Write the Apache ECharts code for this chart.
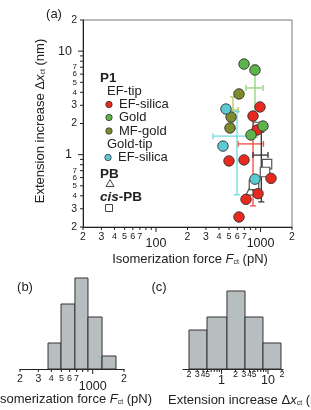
<!DOCTYPE html>
<html><head><meta charset="utf-8">
<script src="https://cdn.jsdelivr.net/npm/echarts@6/dist/echarts.min.js"></script>
<style>html,body{margin:0;padding:0;background:#fff}#c{width:311px;height:410px}</style>
</head><body><div id="c"></div>
<script>
// ---------- data ----------
// panel (a): isomerization force (pN) vs extension increase (nm)
const forceCisPB = [946, 1153, 1103, 866];
const extCisPB = [1.85, 0.81, 0.68, 0.51];
const forcePB = [800];
const extPB = [0.45];
const forceEFsilica = [988, 847, 925, 499, 695, 1259, 946, 726, 622];
const extEFsilica = [2.89, 2.36, 1.73, 0.87, 0.89, 0.59, 0.42, 0.37, 0.25];
const forceGold = [695, 885, 1055, 810];
const extGold = [7.51, 6.57, 1.89, 1.55];
const forceMFgold = [622, 522, 510];
const extMFgold = [3.86, 2.31, 1.81];
const forceTipSilica = [467, 437, 885];
const extTipSilica = [2.76, 1.21, 0.58];
// mean +- SD markers: EF-silica, Gold, MF-gold, Gold-tip EF-silica, cis-PB
const errForce = [847, 885, 545, 595, 1017];
const errExt = [1.27, 4.41, 2.70, 1.51, 0.99];
const errForceLow = [609, 726, 510, 351, 847];
const errForceHigh = [1067, 1055, 609, 839, 1179];
const errExtLow = [0.32, 1.47, 1.79, 0.41, 0.35];
const errExtHigh = [2.23, 7.35, 3.61, 2.61, 1.65];
// panel (b): histogram of isomerization force
const histForceEdges = [372, 496, 675, 901, 1230, 1675];
const histForceCounts = [2, 5, 7, 4, 1];
// panel (c): histogram of extension increase
const histExtEdges = [0.2, 0.488, 1.31, 3.2, 7.79, 19.0];
const histExtCounts = [3, 4, 6, 4, 2];
// tick values and labels
const forceTicks = [20,30,40,50,60,70,80,90,100,200,300,400,500,600,700,800,900,1000,2000];
const forceTickLabels = ['2','3','4','5','6','7','','','100','2','3','4','5','6','7','','','1000','2'];
const extTicks = [0.2,0.3,0.4,0.5,0.6,0.7,0.8,0.9,1,2,3,4,5,6,7,8,9,10,20];
const extTickLabels = ['2','3','4','5','6','7','','','1','2','3','4','5','6','7','','','10','2'];
const histForceTicks = [200,300,400,500,600,700,800,900,1000,2000];
const histForceTickLabels = ['2','3','4','5','6','7','','','1000','2'];
const histExtTicks = [0.2,0.3,0.4,0.5,0.6,0.7,0.8,0.9,1,2,3,4,5,6,7,8,9,10,20];
const histExtTickLabels = ['2','3','4','5','','','','','1','2','3','4','5','','','','','10','2'];

// ---------- chart ----------
const FONT = '"Liberation Sans", Arial, Helvetica, sans-serif';
const INK = '#222';
const chart = echarts.init(document.getElementById('c'), null, {renderer: 'canvas'});

function isPow10(v) { const l = Math.log10(v); return Math.abs(l - Math.round(l)) < 1e-9; }
function mant(v) { return v / Math.pow(10, Math.floor(Math.log10(v) + 1e-9)); }

function tickSeries(kind, gi, vals, labels, fixed, cfg) {
  return {
    type: 'custom', xAxisIndex: gi, yAxisIndex: gi, clip: false, silent: true, z: 1,
    data: vals.map(v => kind === 'x' ? [v, fixed] : [fixed, v]),
    renderItem: function (params, api) {
      const v = api.value(kind === 'x' ? 0 : 1);
      const p = api.coord([api.value(0), api.value(1)]);
      const major = isPow10(v);
      const len = major ? cfg.majorLen : cfg.minorLen;
      const lab = labels[params.dataIndex];
      const ch = [];
      if (kind === 'x') {
        ch.push({type: 'line', shape: {x1: p[0], y1: p[1], x2: p[0], y2: p[1] + len}, style: {stroke: INK, lineWidth: 1}});
      } else {
        ch.push({type: 'line', shape: {x1: p[0], y1: p[1], x2: p[0] - len, y2: p[1]}, style: {stroke: INK, lineWidth: 1}});
      }
      if (lab) {
        const fs = major ? cfg.majorFs : (mant(v) <= 3.01 ? cfg.bigFs : cfg.smallFs);
        const st = {text: lab, fontSize: fs, fontFamily: FONT, fill: INK};
        if (kind === 'x') {
          st.x = p[0]; st.y = p[1] + (major ? cfg.majorDy : cfg.minorDy);
          st.align = 'center'; st.textAlign = 'center';
        } else {
          st.x = p[0] - (major ? cfg.majorDx : cfg.minorDx); st.y = p[1];
          st.align = 'right'; st.textAlign = 'right';
        }
        st.verticalAlign = 'middle'; st.textVerticalAlign = 'middle';
        ch.push({type: 'text', style: st});
      }
      return {type: 'group', children: ch};
    }
  };
}

function histSeries(gi, edges, counts) {
  return {
    type: 'custom', xAxisIndex: gi, yAxisIndex: gi, clip: false, z: 2,
    data: counts.map((c, i) => [edges[i], edges[i + 1], c]),
    encode: {x: [0, 1], y: 2},
    renderItem: function (params, api) {
      const a = api.coord([api.value(0), api.value(2)]);
      const b = api.coord([api.value(1), 0]);
      return {type: 'rect', shape: {x: a[0], y: a[1], width: b[0] - a[0], height: b[1] - a[1]},
        style: {fill: '#b7bebf', stroke: '#333', lineWidth: 1}};
    }
  };
}

const errColors = ['#f04a44', '#92d27c', '#b7c45e', '#6fd8e6', '#333333'];
const errData = errForce.map((x, i) => [x, errExt[i], errForceLow[i], errForceHigh[i], errExtLow[i], errExtHigh[i], i]);

function zip(a, b) { return a.map((v, i) => [v, b[i]]); }
function dots(name, xs, ys, color, symbol, size) {
  return {
    type: 'scatter', name: name, xAxisIndex: 0, yAxisIndex: 0, z: 3,
    symbol: symbol || 'circle', symbolSize: size || 10.5,
    data: zip(xs, ys),
    itemStyle: {color: color, borderColor: symbol ? '#555' : '#333', borderWidth: symbol ? 1.2 : 0.9, opacity: 1}
  };
}

const sub = {fontSize: 7, fontFamily: FONT, fill: INK, padding: [6, 0, 0, 0]};
const LEG = 13;

const option = {
  animation: false,
  backgroundColor: '#fff',
  grid: [
    {left: 83, top: 20, width: 209, height: 207, show: true, borderColor: '#777', borderWidth: 1, backgroundColor: 'transparent'},
    {left: 20, top: 278, width: 104, height: 91},
    {left: 183, top: 278, width: 100, height: 91}
  ],
  xAxis: [
    {gridIndex: 0, type: 'log', logBase: 10, min: 20, max: 2000, axisLine: {show: true, lineStyle: {color: INK}}, axisTick: {show: false}, axisLabel: {show: false}, splitLine: {show: false}},
    {gridIndex: 1, type: 'log', logBase: 10, min: 200, max: 2000, axisLine: {show: true, lineStyle: {color: INK}}, axisTick: {show: false}, axisLabel: {show: false}, splitLine: {show: false}},
    {gridIndex: 2, type: 'log', logBase: 10, min: 0.1486, max: 21.0, axisLine: {show: true, lineStyle: {color: INK}}, axisTick: {show: false}, axisLabel: {show: false}, splitLine: {show: false}}
  ],
  yAxis: [
    {gridIndex: 0, type: 'log', logBase: 10, min: 0.2, max: 20, axisLine: {show: true, lineStyle: {color: INK}}, axisTick: {show: false}, axisLabel: {show: false}, splitLine: {show: false}},
    {gridIndex: 1, type: 'value', min: 0, max: 7, show: false, splitLine: {show: false}},
    {gridIndex: 2, type: 'value', min: 0, max: 7, show: false, splitLine: {show: false}}
  ],
  series: [
    tickSeries('x', 0, forceTicks, forceTickLabels, 0.2, {majorLen: 5, minorLen: 3, majorFs: 12.5, bigFs: 10.5, smallFs: 9, majorDy: 17, minorDy: 10}),
    tickSeries('y', 0, extTicks, extTickLabels, 20, {majorLen: 5, minorLen: 3, majorFs: 12.5, bigFs: 10.5, smallFs: 8, majorDx: 11, minorDx: 6}),
    tickSeries('x', 1, histForceTicks, histForceTickLabels, 0, {majorLen: 5, minorLen: 3, majorFs: 12.5, bigFs: 10.5, smallFs: 9, majorDy: 18, minorDy: 10}),
    tickSeries('x', 2, histExtTicks, histExtTickLabels, 0, {majorLen: 5, minorLen: 3, majorFs: 12.5, bigFs: 9, smallFs: 8.5, majorDy: 12, minorDy: 6}),
    histSeries(1, histForceEdges, histForceCounts),
    histSeries(2, histExtEdges, histExtCounts),
    {
      type: 'custom', xAxisIndex: 0, yAxisIndex: 0, clip: false, z: 2,
      data: errData,
      encode: {x: 0, y: 1},
      renderItem: function (params, api) {
        const x = api.value(0), y = api.value(1);
        const l = api.coord([api.value(2), y]), r = api.coord([api.value(3), y]);
        const b = api.coord([x, api.value(4)]), t = api.coord([x, api.value(5)]);
        const col = errColors[api.value(6)];
        const cap = 3;
        const st = {stroke: col, lineWidth: 1.3};
        const L = (x1, y1, x2, y2) => ({type: 'line', shape: {x1, y1, x2, y2}, style: st});
        return {type: 'group', children: [
          L(l[0], l[1], r[0], r[1]), L(l[0], l[1] - cap, l[0], l[1] + cap), L(r[0], r[1] - cap, r[0], r[1] + cap),
          L(t[0], t[1], b[0], b[1]), L(t[0] - cap, t[1], t[0] + cap, t[1]), L(b[0] - cap, b[1], b[0] + cap, b[1])
        ]};
      }
    },
    dots('PB', forcePB, extPB, '#fff', 'triangle', 9),
    dots('cis-PB', forceCisPB, extCisPB, '#fff', 'rect', 9.5),
    dots('EF-silica', forceEFsilica, extEFsilica, '#e8291d'),
    dots('Gold', forceGold, extGold, '#5db44a'),
    dots('MF-gold', forceMFgold, extMFgold, '#7e8b2c'),
    dots('Gold-tip EF-silica', forceTipSilica, extTipSilica, '#5cc9d3')
  ],
  graphic: {elements: [
    {type: 'text', style: {text: '(a)', x: 54, y: 14, fontSize: 13, fontFamily: FONT, fill: INK, align: 'center', textAlign: 'center', verticalAlign: 'middle', textVerticalAlign: 'middle'}},
    {type: 'text', style: {text: '(b)', x: 25, y: 287, fontSize: 13, fontFamily: FONT, fill: INK, align: 'center', textAlign: 'center', verticalAlign: 'middle', textVerticalAlign: 'middle'}},
    {type: 'text', style: {text: '(c)', x: 159, y: 287, fontSize: 13, fontFamily: FONT, fill: INK, align: 'center', textAlign: 'center', verticalAlign: 'middle', textVerticalAlign: 'middle'}},
    // axis titles
    {type: 'text', x: 40, y: 121, rotation: Math.PI / 2, style: {
      text: '{a|Extension increase Δ}{i|x}{s|ct}{a| (nm)}', x: 0, y: 0,
      align: 'center', textAlign: 'center', verticalAlign: 'middle', textVerticalAlign: 'middle',
      rich: {a: {fontSize: 13, fontFamily: FONT, fill: INK}, i: {fontSize: 13, fontFamily: FONT, fontStyle: 'italic', fill: INK}, s: sub}}},
    {type: 'text', style: {
      text: '{a|Isomerization force }{i|F}{s|ct}{a| (pN)}', x: 190, y: 259,
      align: 'center', textAlign: 'center', verticalAlign: 'middle', textVerticalAlign: 'middle',
      rich: {a: {fontSize: 13, fontFamily: FONT, fill: INK}, i: {fontSize: 13, fontFamily: FONT, fontStyle: 'italic', fill: INK}, s: sub}}},
    {type: 'text', style: {
      text: '{a|Isomerization force }{i|F}{s|ct}{a| (pN)}', x: 152, y: 399,
      align: 'right', textAlign: 'right', verticalAlign: 'middle', textVerticalAlign: 'middle',
      rich: {a: {fontSize: 13, fontFamily: FONT, fill: INK}, i: {fontSize: 13, fontFamily: FONT, fontStyle: 'italic', fill: INK}, s: sub}}},
    {type: 'text', style: {
      text: '{a|Extension increase Δ}{i|x}{s|ct}{a| (nm)}', x: 168, y: 400,
      align: 'left', textAlign: 'left', verticalAlign: 'middle', textVerticalAlign: 'middle',
      rich: {a: {fontSize: 13, fontFamily: FONT, fill: INK}, i: {fontSize: 13, fontFamily: FONT, fontStyle: 'italic', fill: INK}, s: sub}}},
    // legend
    {type: 'text', style: {text: 'P1', x: 100, y: 78, fontSize: 13.5, fontWeight: 'bold', fontFamily: FONT, fill: INK, verticalAlign: 'middle', textVerticalAlign: 'middle'}},
    {type: 'text', style: {text: 'EF-tip', x: 107, y: 91, fontSize: LEG, fontFamily: FONT, fill: INK, verticalAlign: 'middle', textVerticalAlign: 'middle'}},
    {type: 'circle', shape: {cx: 109, cy: 104.5, r: 3.2}, style: {fill: '#e8291d', stroke: '#333', lineWidth: 0.8}},
    {type: 'text', style: {text: 'EF-silica', x: 119, y: 104.5, fontSize: LEG, fontFamily: FONT, fill: INK, verticalAlign: 'middle', textVerticalAlign: 'middle'}},
    {type: 'circle', shape: {cx: 109, cy: 117.5, r: 3.2}, style: {fill: '#5db44a', stroke: '#333', lineWidth: 0.8}},
    {type: 'text', style: {text: 'Gold', x: 119, y: 117.5, fontSize: LEG, fontFamily: FONT, fill: INK, verticalAlign: 'middle', textVerticalAlign: 'middle'}},
    {type: 'circle', shape: {cx: 109, cy: 131, r: 3.2}, style: {fill: '#7e8b2c', stroke: '#333', lineWidth: 0.8}},
    {type: 'text', style: {text: 'MF-gold', x: 119, y: 131, fontSize: LEG, fontFamily: FONT, fill: INK, verticalAlign: 'middle', textVerticalAlign: 'middle'}},
    {type: 'text', style: {text: 'Gold-tip', x: 107, y: 144.5, fontSize: LEG, fontFamily: FONT, fill: INK, verticalAlign: 'middle', textVerticalAlign: 'middle'}},
    {type: 'circle', shape: {cx: 108, cy: 157.5, r: 3.2}, style: {fill: '#5cc9d3', stroke: '#333', lineWidth: 0.8}},
    {type: 'text', style: {text: 'EF-silica', x: 118, y: 157.5, fontSize: LEG, fontFamily: FONT, fill: INK, verticalAlign: 'middle', textVerticalAlign: 'middle'}},
    {type: 'text', style: {text: 'PB', x: 100, y: 174, fontSize: 13.5, fontWeight: 'bold', fontFamily: FONT, fill: INK, verticalAlign: 'middle', textVerticalAlign: 'middle'}},
    {type: 'polygon', shape: {points: [[110, 179.5], [114, 186.5], [106, 186.5]]}, style: {fill: '#fff', stroke: '#444', lineWidth: 1}},
    {type: 'text', style: {
      text: '{i|cis}{b|-PB}', x: 100, y: 197, verticalAlign: 'middle', textVerticalAlign: 'middle',
      rich: {i: {fontSize: 13.5, fontWeight: 'bold', fontStyle: 'italic', fontFamily: FONT, fill: INK}, b: {fontSize: 13.5, fontWeight: 'bold', fontFamily: FONT, fill: INK}}}},
    {type: 'rect', shape: {x: 105.5, y: 204.5, width: 7, height: 7}, style: {fill: '#fff', stroke: '#444', lineWidth: 1}}
  ]}
};
chart.setOption(option);
</script>
</body></html>
